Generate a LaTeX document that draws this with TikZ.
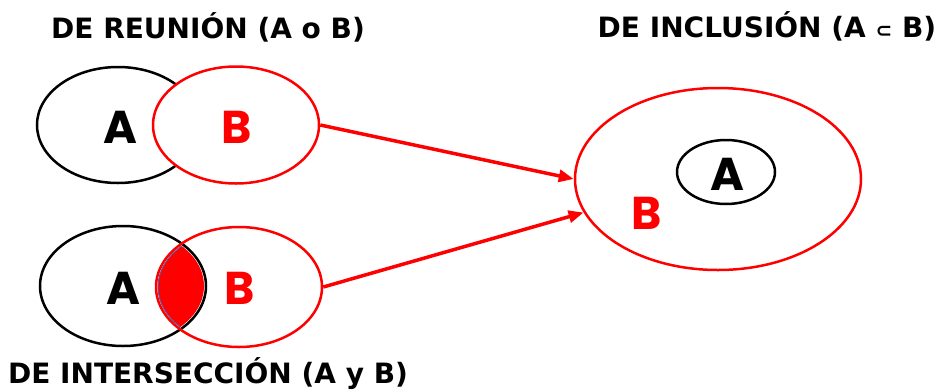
\documentclass[tikz,border=0pt]{standalone}
\usepackage{fontspec}
\setmainfont{DejaVu Sans}
\newfontfamily\bigfont{Poppins Bold}
\usetikzlibrary{shapes.geometric,arrows.meta}
\begin{document}
\begin{tikzpicture}[x=1pt,y=-1pt,
  setbk/.style={draw=black,ellipse,line width=2.5pt,inner sep=0pt},
  setrd/.style={draw=red,ellipse,line width=2.5pt,inner sep=0pt},
  lettr/.style={font=\bigfont\fontsize{46}{46}\selectfont},
  ttl/.style={font=\bfseries\fontsize{28}{28}\selectfont,anchor=base,inner sep=0pt},
  arr/.style={draw=red,line width=3.5pt,-{Triangle[length=15pt,width=12pt]}}]
\useasboundingbox (0,0) rectangle (939,389);
% top: union
\node[setbk,minimum width=162pt,minimum height=116pt] (uA) at (118,125) {};
\node[setrd,fill=white,minimum width=166pt,minimum height=117pt] (uB) at (236,125) {};
\node[lettr] (uAl) at (120,127) {A};
\node[lettr,text=red] (uBl) at (237,127) {B};
\node[ttl] (t1) at (208,38) {DE REUNIÓN (A o B)};
% bottom: intersection
\begin{scope}
\clip (123,286) ellipse [x radius=81pt,y radius=58pt];
\fill[red,draw=gray!70!blue,line width=1pt] (239,287) ellipse [x radius=81pt,y radius=58pt];
\end{scope}
\node[setbk,minimum width=166pt,minimum height=120pt] (iA) at (123,286) {};
\node[setrd,minimum width=166pt,minimum height=120pt] (iB) at (239,287) {};
\node[lettr] (iAl) at (123,288) {A};
\node[lettr,text=red] (iBl) at (240,288) {B};
\node[ttl] (t2) at (208,383) {DE INTERSECCIÓN (A y B)};
% right: inclusion
\node[setrd,minimum width=286pt,minimum height=182pt] (cB) at (718,179) {};
\node[setbk,minimum width=98pt,minimum height=64pt] (cA) at (726,172) {};
\node[lettr] (cAl) at (727,174) {A};
\node[lettr,text=red] (cBl) at (647,213) {B};
\node[ttl] (t3) at (767,37) {DE INCLUSIÓN (A {\fontsize{20}{20}\selectfont ⊂} B)};
% arrows
\draw[arr] (uB.east) -- (cB.west);
\draw[arr] (iB.east) -- (cB.194);
\end{tikzpicture}
\end{document}
